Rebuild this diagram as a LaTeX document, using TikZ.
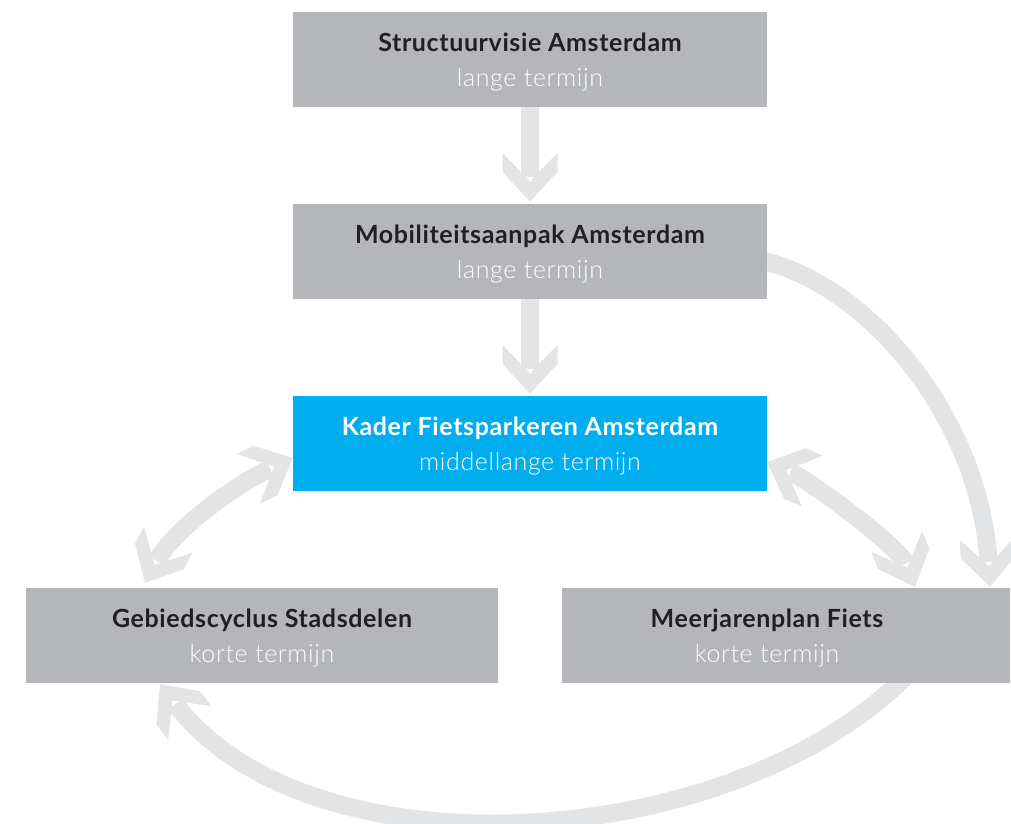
\documentclass[tikz,border=0pt]{standalone}
\usepackage{fontspec}
\setmainfont{Lato}[LetterSpace=2.5]
\newfontfamily\lightfont{Lato Light}[LetterSpace=2.5]
\usetikzlibrary{calc,arrows.meta}
\definecolor{boxgray}{HTML}{B5B6BA}
\definecolor{arrowgray}{HTML}{E3E4E6}
\definecolor{kaderblue}{HTML}{00AEEF}
\definecolor{titledark}{HTML}{231F20}
\pgfdeclarelayer{bg}
\pgfsetlayers{bg,main}
\pgfdeclarearrow{
  name = Chev,
  parameters = {},
  setup code = {
    \pgfarrowssettipend{0pt}
    \pgfarrowssetlineend{-25pt}
    \pgfarrowssetbackend{-49pt}
    \pgfarrowshullpoint{0pt}{0pt}
    \pgfarrowshullpoint{-49pt}{27.5pt}
    \pgfarrowshullpoint{-49pt}{-27.5pt}
  },
  drawing code = {
    \pgfpathmoveto{\pgfpoint{0pt}{0pt}}
    \pgfpathlineto{\pgfpoint{-30pt}{27.5pt}}
    \pgfpathlineto{\pgfpoint{-49pt}{27.5pt}}
    \pgfpathlineto{\pgfpoint{-20.5pt}{0pt}}
    \pgfpathlineto{\pgfpoint{-49pt}{-27.5pt}}
    \pgfpathlineto{\pgfpoint{-30pt}{-27.5pt}}
    \pgfpathclose
    \pgfusepathqfill
  }
}
\tikzset{
  box/.style={fill=boxgray, minimum width=474pt, minimum height=95pt, inner sep=0pt,
    align=center, text depth=0pt, font=\fontsize{25}{35}\selectfont},
  bluebox/.style={box, fill=kaderblue},
  boxtext/.style={inner sep=0pt, align=center, text depth=0pt, font=\fontsize{25}{35}\selectfont},
  flow/.style={color=arrowgray, line width=18pt, -Chev},
  flowboth/.style={color=arrowgray, line width=18pt, Chev-Chev},
}
\newcommand{\ttl}[1]{{\bfseries\color{titledark}#1}}
\newcommand{\sub}[1]{{\lightfont\color{white}#1}}
\begin{document}
\begin{tikzpicture}[x=1pt,y=-1pt]
\useasboundingbox (0,0) rectangle (1011,823);
% boxes
\node[box] (b1) at (530,59.5) {\ttl{Structuurvisie Amsterdam}\\\sub{lange termijn}};
\node[box] (b2) at (530,251.5) {\ttl{Mobiliteitsaanpak Amsterdam}\\\sub{lange termijn}};
\node[bluebox] (b3) at (530,443.5) {{\bfseries\color{white}Kader Fietsparkeren Amsterdam}\\\sub{middellange termijn}};
\node[box, minimum width=472pt] (b4) at (262,635.5) {\ttl{Gebiedscyclus Stadsdelen}\\\sub{korte termijn}};
\node[box, minimum width=448pt] (b5) at (786,635.5) {};
\node[boxtext] (t5) at ($(b5.center)+(-19,0)$) {\ttl{Meerjarenplan Fiets}\\\sub{korte termijn}};
% connectors (behind the boxes)
\begin{pgfonlayer}{bg}
\draw[flow, shorten >=2pt] (b1.south) -- (b2.north);
\draw[flow, shorten >=2pt] (b2.south) -- (b3.north);
\draw[flow] ($(b2.east)+(-7,8.5)$) .. controls +(110,25) and +(-10,-167) .. ($(b5.north)+(204,-1)$);
\draw[flow] ($(b5.south)+(121,-8)$) .. controls +(-180,180) and +(150,195) .. ($(b4.south)+(-102,1)$);
\draw[flowboth] ($(b3.west)+(0,14.5)$) .. controls +(-60,28) and +(28,-52) .. ($(b4.north)+(-117,-5)$);
\draw[flowboth] ($(b3.east)+(0,18.5)$) .. controls +(38,16) and +(-17,-42) .. ($(b5.north)+(129,-1)$);
\end{pgfonlayer}
\end{tikzpicture}
\end{document}
